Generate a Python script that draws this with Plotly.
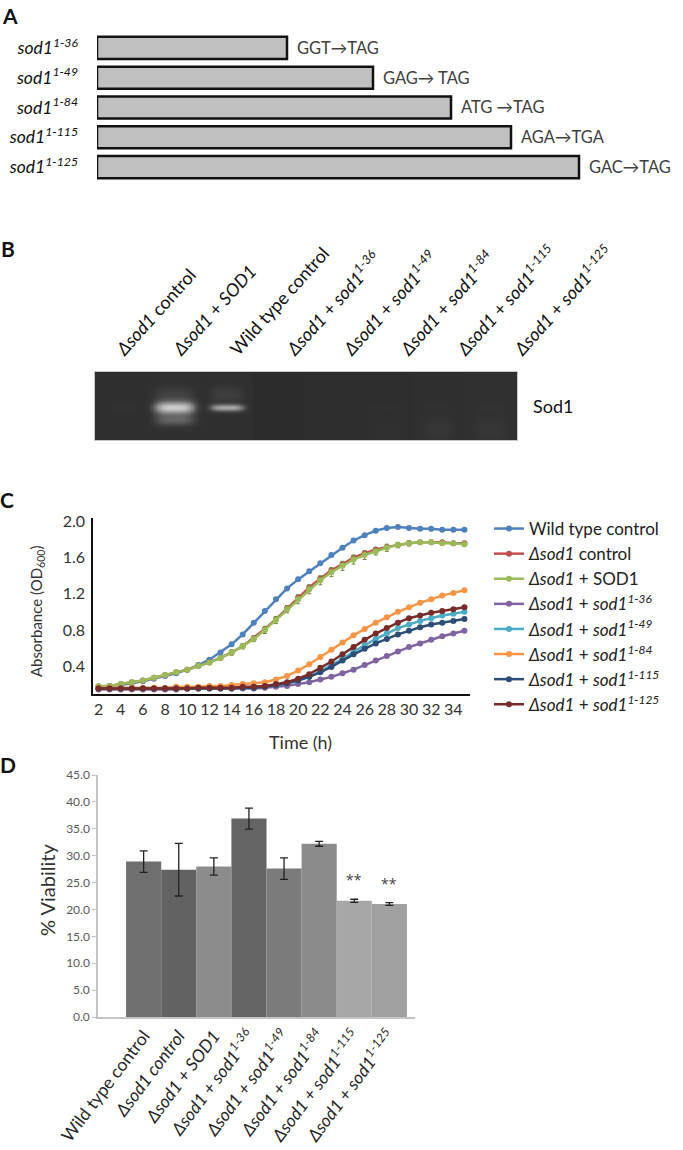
import numpy as np
import plotly.graph_objects as go

W, H = 683, 1150
def fx(p):
    return p / W
def fy(p):
    return 1 - p / H

FONT = "Lato, 'Open Sans', sans-serif"

# ---------------- Panel A data ----------------
construct_labels = ["<i>sod1</i><sup><i>1-36</i></sup>", "<i>sod1</i><sup><i>1-49</i></sup>",
                    "<i>sod1</i><sup><i>1-84</i></sup>", "<i>sod1</i><sup><i>1-115</i></sup>",
                    "<i>sod1</i><sup><i>1-125</i></sup>"]
construct_lengths = [190, 276, 354, 414, 482]
mutations = ["GGT\u2192TAG", "GAG\u2192 TAG", "ATG \u2192TAG", "AGA\u2192TGA", "GAC\u2192TAG"]

# ---------------- Panel B data ----------------
lane_labels = ["<i>\u0394sod1</i> control", "<i>\u0394sod1</i> + <i>SOD1</i>", "Wild type control",
               "<i>\u0394sod1</i> + <i>sod1</i><sup><i>1-36</i></sup>",
               "<i>\u0394sod1</i> + <i>sod1</i><sup><i>1-49</i></sup>",
               "<i>\u0394sod1</i> + <i>sod1</i><sup><i>1-84</i></sup>",
               "<i>\u0394sod1</i> + <i>sod1</i><sup><i>1-115</i></sup>",
               "<i>\u0394sod1</i> + <i>sod1</i><sup><i>1-125</i></sup>"]
lane_band_intensity = [0.01, 0.68, 0.50, 0.0, 0.0, 0.01, 0.01, 0.01]
lane_band_halfwidth = [0.3, 0.37, 0.31, 0.3, 0.3, 0.3, 0.3, 0.3]
lane_band_sigma = [0.06, 0.09, 0.05, 0.06, 0.06, 0.06, 0.06, 0.06]
lane_band_tail = [0.0, 0.20, 0.0, 0.0, 0.0, 0.0, 0.0, 0.0]
lane_glow = [0.0, 0.07, 0.06, 0.0, 0.0, 0.0, 0.0, 0.0]
lane_bottom_smear = [0.0, 0.0, 0.0, 0.0, 0.0, 0.01, 0.03, 0.025]
lane_background = [0.135, 0.138, 0.138, 0.125, 0.128, 0.132, 0.135, 0.14]

# ---------------- Panel C data ----------------
time_h = list(range(2, 36))
growth_names = ["Wild type control", "<i>\u0394sod1</i> control", "<i>\u0394sod1</i> + SOD1",
                "<i>\u0394sod1</i> + <i>sod1</i><sup><i>1-36</i></sup>",
                "<i>\u0394sod1</i> + <i>sod1</i><sup><i>1-49</i></sup>",
                "<i>\u0394sod1</i> + <i>sod1</i><sup><i>1-84</i></sup>",
                "<i>\u0394sod1</i> + <i>sod1</i><sup><i>1-115</i></sup>",
                "<i>\u0394sod1</i> + <i>sod1</i><sup><i>1-125</i></sup>"]
growth_colors = ["#4F81BD", "#C0504D", "#9BBB59", "#8064A2", "#4BACC6", "#F79646", "#2C4D75", "#772C2A"]
od_wt = [0.17, 0.18, 0.19, 0.21, 0.23, 0.26, 0.29, 0.32, 0.36, 0.41, 0.47, 0.55, 0.64, 0.75, 0.88, 1.01,
         1.14, 1.26, 1.36, 1.45, 1.54, 1.63, 1.71, 1.79, 1.85, 1.90, 1.93, 1.94, 1.93, 1.92, 1.92, 1.91, 1.91, 1.91]
od_del = [0.17, 0.18, 0.20, 0.22, 0.24, 0.27, 0.30, 0.33, 0.36, 0.40, 0.44, 0.49, 0.55, 0.62, 0.71, 0.81,
          0.92, 1.04, 1.16, 1.27, 1.37, 1.46, 1.53, 1.60, 1.65, 1.69, 1.72, 1.74, 1.76, 1.77, 1.77, 1.77, 1.76, 1.76]
od_sod1 = [0.18, 0.18, 0.20, 0.22, 0.24, 0.27, 0.30, 0.33, 0.36, 0.40, 0.44, 0.49, 0.55, 0.62, 0.70, 0.80,
           0.91, 1.03, 1.14, 1.25, 1.35, 1.44, 1.51, 1.58, 1.63, 1.67, 1.71, 1.74, 1.76, 1.77, 1.77, 1.76, 1.76, 1.75]
od_sod1_err = [0.01, 0.01, 0.01, 0.01, 0.01, 0.01, 0.01, 0.01, 0.01, 0.01, 0.02, 0.02, 0.03, 0.03, 0.03, 0.04,
               0.04, 0.04, 0.05, 0.05, 0.05, 0.05, 0.05, 0.05, 0.05, 0.04, 0.04, 0.03, 0.03, 0.02, 0.02, 0.02, 0.02, 0.02]
od_36 = [0.14, 0.14, 0.14, 0.14, 0.14, 0.14, 0.14, 0.14, 0.15, 0.15, 0.15, 0.15, 0.15, 0.15, 0.15, 0.16,
         0.17, 0.18, 0.20, 0.22, 0.25, 0.28, 0.32, 0.36, 0.41, 0.46, 0.51, 0.56, 0.61, 0.65, 0.69, 0.73, 0.76, 0.79]
od_49 = [0.15, 0.15, 0.15, 0.15, 0.15, 0.15, 0.15, 0.15, 0.15, 0.15, 0.16, 0.16, 0.16, 0.16, 0.17, 0.18,
         0.19, 0.21, 0.24, 0.28, 0.34, 0.41, 0.48, 0.56, 0.63, 0.70, 0.76, 0.82, 0.86, 0.90, 0.93, 0.96, 0.98, 1.00]
od_84 = [0.16, 0.16, 0.16, 0.16, 0.16, 0.16, 0.16, 0.17, 0.17, 0.17, 0.18, 0.18, 0.19, 0.20, 0.21, 0.22,
         0.25, 0.29, 0.35, 0.42, 0.50, 0.58, 0.66, 0.74, 0.81, 0.88, 0.94, 1.00, 1.05, 1.10, 1.14, 1.18, 1.21, 1.24]
od_115 = [0.15, 0.15, 0.15, 0.15, 0.15, 0.15, 0.15, 0.15, 0.15, 0.15, 0.15, 0.15, 0.15, 0.16, 0.16, 0.17,
          0.19, 0.21, 0.24, 0.28, 0.33, 0.39, 0.46, 0.53, 0.59, 0.65, 0.70, 0.75, 0.79, 0.83, 0.86, 0.88, 0.90, 0.92]
od_125 = [0.15, 0.15, 0.15, 0.15, 0.15, 0.15, 0.15, 0.15, 0.15, 0.16, 0.16, 0.16, 0.16, 0.17, 0.17, 0.18,
          0.20, 0.22, 0.26, 0.31, 0.38, 0.45, 0.53, 0.61, 0.69, 0.76, 0.82, 0.88, 0.93, 0.96, 0.99, 1.01, 1.03, 1.05]
growth_series = [od_wt, od_del, od_sod1, od_36, od_49, od_84, od_115, od_125]
od_ticks = [0.4, 0.8, 1.2, 1.6, 2.0]
time_ticks = list(range(2, 35, 2))

# ---------------- Panel D data ----------------
viab_labels = ["Wild type control", "<i>\u0394sod1 control</i>", "<i>\u0394sod1 + SOD1</i>",
               "<i>\u0394sod1 + sod1</i><sup><i>1-36</i></sup>", "<i>\u0394sod1 + sod1</i><sup><i>1-49</i></sup>",
               "<i>\u0394sod1 + sod1</i><sup><i>1-84</i></sup>", "<i>\u0394sod1 + sod1</i><sup><i>1-115</i></sup>",
               "<i>\u0394sod1 + sod1</i><sup><i>1-125</i></sup>"]
viability = [28.9, 27.4, 28.0, 36.9, 27.6, 32.2, 21.6, 21.0]
viability_err = [2.0, 4.9, 1.6, 1.95, 2.0, 0.45, 0.3, 0.25]
viab_colors = ["#6f6f6f", "#626262", "#8c8c8c", "#636463", "#7b7b7b", "#8b8b8b", "#a7a7a7", "#a1a1a1"]
significance = ["", "", "", "", "", "", "**", "**"]
viab_ticks = [0, 5, 10, 15, 20, 25, 30, 35, 40, 45]

fig = go.Figure()

# ---- A: construct bars
ia = list(range(len(construct_lengths)))
fig.add_trace(go.Bar(x=construct_lengths, y=ia, orientation="h", width=0.74,
                     marker=dict(color="#C0C0C0", line=dict(color="#111111", width=2.5)),
                     xaxis="x", yaxis="y", showlegend=False, hoverinfo="skip"))

# ---- B: gel image built from the lane band table
gx = np.linspace(0, 8, 321)
gy = np.linspace(0, 1, 69)
GX, GY = np.meshgrid(gx, gy)
z = np.zeros_like(GX)
for i in range(8):
    inlane = (GX >= i) & (GX < i + 1)
    z += np.where(inlane, lane_background[i], 0)
    hprof = np.exp(-np.abs((GX - (i + 0.5)) / lane_band_halfwidth[i]) ** 4)
    core = np.exp(-((GY - 0.52) / lane_band_sigma[i]) ** 2)
    tail = lane_band_tail[i] * np.exp(-((GY - 0.70) / 0.08) ** 2)
    glow = lane_glow[i] * np.exp(-((GY - 0.33) / 0.12) ** 2)
    smear = lane_bottom_smear[i] * np.exp(-((GY - 0.85) / 0.18) ** 2)
    z += hprof * (lane_band_intensity[i] * core + tail + glow + smear)
fig.add_trace(go.Heatmap(x=gx, y=gy, z=z, zmin=0, zmax=1, zsmooth="best", showscale=False,
                         colorscale=[[0, "#141414"], [0.12, "#2b2b2b"], [0.45, "#7d7d7d"], [1, "#f2f2f2"]],
                         xaxis="x2", yaxis="y2", hoverinfo="skip"))
fig.add_trace(go.Scatter(x=list(range(8)), y=[0.5] * 8, mode="markers", marker=dict(opacity=0),
                         xaxis="x5", yaxis="y2", showlegend=False, hoverinfo="skip"))

# ---- C: growth curves
for name, col, vals in zip(growth_names, growth_colors, growth_series):
    err = None
    if vals is od_sod1:
        err = dict(type="data", array=od_sod1_err, color="#6f8a3c", thickness=1, width=2)
    fig.add_trace(go.Scatter(x=time_h, y=vals, name=name, mode="lines+markers",
                             line=dict(color=col, width=2.5), marker=dict(color=col, size=6),
                             error_y=err, xaxis="x3", yaxis="y3"))

# ---- D: viability bars
iv = list(range(len(viability)))
fig.add_trace(go.Bar(x=iv, y=viability, width=1.0, marker=dict(color=viab_colors, line=dict(width=0)),
                     error_y=dict(type="data", array=viability_err, color="#222222", thickness=1.3, width=4),
                     xaxis="x4", yaxis="y4", showlegend=False, hoverinfo="skip"))

ann = []
def paper_text(text, x, y, size, color="#333333", angle=0, xanchor="center"):
    ann.append(dict(text=text, x=fx(x), y=fy(y), xref="paper", yref="paper", xanchor=xanchor,
                    yanchor="middle", textangle=angle, showarrow=False,
                    font=dict(size=size, color=color, family=FONT)))

for letter, (lx, ly) in zip("ABCD", [(10, 15), (8, 248), (7, 500), (8, 764)]):
    paper_text("<b>%s</b>" % letter, lx, ly, 21, "#111111")
for i, (L, m) in enumerate(zip(construct_lengths, mutations)):
    ann.append(dict(text=m, x=L, y=i, xref="x", yref="y", xanchor="left", yanchor="middle", xshift=8,
                    showarrow=False, font=dict(size=16.5, color="#404040", family=FONT)))
paper_text("Sod1", 531, 406, 18, "#111111", xanchor="left")
ann.append(dict(text="0", x=fx(84), y=0, xref="paper", yref="y3", xanchor="right", yanchor="middle", yshift=-5,
                showarrow=False, font=dict(size=16, color="#333333", family=FONT)))
paper_text("Absorbance (OD<sub>600</sub>)", 37, 612, 15, angle=-90)
paper_text("Time (h)", 300, 742, 18)
paper_text("% Viability", 47, 890, 20, angle=-90)
for i, (v, e, s) in enumerate(zip(viability, viability_err, significance)):
    if s:
        ann.append(dict(text=s, x=i, y=v + e, xref="x4", yref="y4", xanchor="center", yanchor="bottom",
                        yshift=8, showarrow=False, font=dict(size=14, color="#444444", family="Open Sans")))

fig.update_layout(
    width=W, height=H, margin=dict(l=0, r=0, t=0, b=0, autoexpand=False),
    paper_bgcolor="white", plot_bgcolor="rgba(0,0,0,0)",
    font=dict(family=FONT, color="#222222"),
    annotations=ann,
    showlegend=True,
    legend=dict(x=fx(489), y=fy(511), xanchor="left", yanchor="top", bgcolor="rgba(0,0,0,0)",
                font=dict(size=17, color="#222222", family=FONT), itemwidth=30, tracegroupgap=0),
    xaxis=dict(domain=[fx(97), 1.0], range=[0, 586], visible=False, fixedrange=True, automargin=False),
    yaxis=dict(domain=[fy(182), fy(33)], range=[4.5, -0.5], tickvals=ia, ticktext=construct_labels,
               showline=False, showgrid=False, zeroline=False, ticks="", ticklabelstandoff=18, automargin=False,
               tickfont=dict(size=17.5, color="#111111", family=FONT)),
    xaxis2=dict(domain=[fx(95), fx(517)], range=[0, 8], anchor="y2", showticklabels=False, ticks="",
                showgrid=False, zeroline=False, showline=True, mirror=True, linecolor="#c8c8c8", linewidth=1,
                automargin=False),
    yaxis2=dict(domain=[fy(440), fy(372)], range=[1, 0], anchor="x2", showticklabels=False, ticks="",
                showgrid=False, zeroline=False, showline=True, mirror=True, linecolor="#c8c8c8", linewidth=1,
                automargin=False),
    xaxis5=dict(domain=[fx(118 - 28.4), fx(516 + 28.4)], range=[-0.5, 7.5], anchor="y2", side="top",
                tickvals=list(range(8)), ticktext=lane_labels, tickangle=-48, ticks="", showline=False,
                showgrid=False, zeroline=False, ticklabelstandoff=8, automargin=False,
                tickfont=dict(size=18, color="#111111", family=FONT)),
    xaxis3=dict(domain=[fx(93), fx(470)], range=[1.5, 35.5], anchor="y3", tickvals=time_ticks,
                showline=True, linecolor="#111111", linewidth=1.5, showgrid=False, zeroline=False, ticks="",
                automargin=False, tickfont=dict(size=16, color="#333333", family=FONT)),
    yaxis3=dict(domain=[fy(694), fy(518)], range=[0.09, 2.04], anchor="x3", tickvals=od_ticks,
                tickformat=".1f", showline=True, linecolor="#111111", linewidth=1.5, showgrid=False,
                zeroline=False, ticks="", ticklabelstandoff=3, automargin=False,
                tickfont=dict(size=16, color="#333333", family=FONT)),
    xaxis4=dict(domain=[fx(98), fx(415)], range=[-1.3, 7.73], anchor="y4", tickvals=iv, ticktext=viab_labels,
                tickangle=-53, showline=True, linecolor="#c4c4c4", linewidth=1.5, showgrid=False,
                zeroline=False, ticks="", automargin=False, tickfont=dict(size=17.5, color="#262626", family=FONT)),
    yaxis4=dict(domain=[fy(1017), fy(775)], range=[0, 45], anchor="x4", tickvals=viab_ticks, tickformat=".1f",
                showline=True, linecolor="#c4c4c4", linewidth=1.5, showgrid=False, zeroline=False,
                ticks="outside", ticklen=4, tickcolor="#c4c4c4", automargin=False,
                tickfont=dict(size=12, color="#595959", family=FONT)),
)

fig.write_html("out.html", config={"displayModeBar": False},
               post_script="document.body.style.margin='0px';")
